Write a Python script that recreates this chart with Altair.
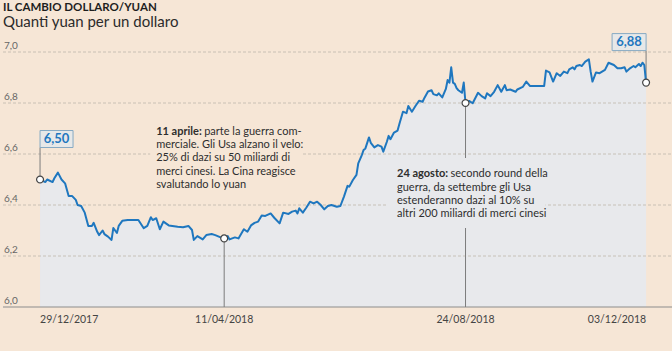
import altair as alt
import pandas as pd

# ---------------- data ----------------
title_text = "IL CAMBIO DOLLARO/YUAN"
subtitle_text = "Quanti yuan per un dollaro"

# days since 29/12/2017, and yuan per dollar
days = [0, 3, 4, 7, 8, 10, 12, 14, 16, 18, 20, 21, 23, 25, 27, 29, 30, 32, 33, 35,
        36, 38, 40, 41, 43, 44, 46, 49, 55, 58, 60, 62, 63, 65, 67, 69, 72, 74, 77, 80,
        83, 85, 86, 88, 91, 93, 96, 98, 101, 103, 105, 106, 109, 111, 114, 116, 118, 120, 122, 124,
        126, 129, 131, 134, 136, 139, 141, 143, 144, 145, 147, 149, 151, 153, 155, 157, 159, 161, 163, 166,
        168, 170, 172, 173, 175, 177, 178, 180, 181, 182, 184, 185, 186, 187, 189, 191, 192, 194, 195, 196,
        198, 200, 201, 203, 205, 206, 208, 210, 212, 214, 215, 217, 219, 220, 222, 223, 225, 227, 228, 229,
        230, 231, 232, 233, 234, 236, 237, 238, 240, 242, 245, 247, 249, 250, 252, 254, 256, 258, 260, 261,
        263, 266, 267, 270, 272, 274, 277, 282, 283, 285, 287, 289, 291, 293, 295, 296, 298, 299, 300, 302,
        303, 305, 307, 308, 309, 311, 313, 316, 318, 321, 323, 325, 327, 328, 330, 332, 333, 335, 336, 337,
        338, 339]
values = [6.500, 6.490, 6.500, 6.490, 6.505, 6.527, 6.500, 6.485, 6.435, 6.435, 6.420, 6.400, 6.396, 6.370, 6.318, 6.318, 6.330, 6.295, 6.282, 6.300,
          6.286, 6.276, 6.263, 6.310, 6.290, 6.318, 6.338, 6.341, 6.341, 6.309, 6.318, 6.352, 6.341, 6.348, 6.305, 6.335, 6.320, 6.318, 6.315, 6.313,
          6.318, 6.302, 6.263, 6.278, 6.265, 6.282, 6.286, 6.282, 6.273, 6.269, 6.278, 6.265, 6.273, 6.269, 6.305, 6.295, 6.320, 6.330, 6.335, 6.359,
          6.357, 6.367, 6.350, 6.328, 6.370, 6.365, 6.374, 6.378, 6.367, 6.387, 6.370, 6.390, 6.413, 6.406, 6.413, 6.400, 6.383, 6.396, 6.400, 6.393,
          6.396, 6.433, 6.475, 6.472, 6.498, 6.518, 6.563, 6.596, 6.616, 6.622, 6.665, 6.644, 6.635, 6.626, 6.635, 6.629, 6.609, 6.648, 6.671, 6.658,
          6.684, 6.692, 6.718, 6.766, 6.760, 6.788, 6.766, 6.788, 6.809, 6.805, 6.820, 6.845, 6.850, 6.835, 6.830, 6.838, 6.822, 6.855, 6.890, 6.880,
          6.940, 6.880, 6.875, 6.858, 6.850, 6.840, 6.880, 6.800, 6.808, 6.799, 6.840, 6.827, 6.818, 6.838, 6.827, 6.844, 6.870, 6.844, 6.870, 6.850,
          6.853, 6.844, 6.853, 6.863, 6.884, 6.867, 6.867, 6.867, 6.927, 6.920, 6.884, 6.917, 6.906, 6.923, 6.917, 6.932, 6.940, 6.932, 6.945, 6.949,
          6.945, 6.962, 6.971, 6.923, 6.884, 6.920, 6.917, 6.930, 6.958, 6.949, 6.936, 6.936, 6.940, 6.923, 6.936, 6.945, 6.940, 6.953, 6.945, 6.958,
          6.949, 6.880]

tick_days = [0, 103, 238, 339]
tick_labels = ["29/12/2017", "11/04/2018", "24/08/2018", "03/12/2018"]
tick_align = ["left", "center", "center", "right"]

y_ticks = [6.0, 6.2, 6.4, 6.6, 6.8, 7.0]
y_tick_labels = ["6,0", "6,2", "6,4", "6,6", "6,8", "7,0"]

event_days = [103, 238]
box_days = [0, 339]
box_labels = ["6,50", "6,88"]

note1_bold = "11 aprile:"
note1_first = "parte la guerra com-"
note1_rest = ["merciale. Gli Usa alzano il velo:",
              "25% di dazi su 50 miliardi di",
              "merci cinesi. La Cina reagisce",
              "svalutando lo yuan"]
note2_bold = "24 agosto:"
note2_first = "secondo round della"
note2_rest = ["guerra, da settembre gli Usa",
              "estenderanno dazi al 10% su",
              "altri 200 miliardi di merci cinesi"]

# ---------------- tables ----------------
series = pd.DataFrame({"day": days, "value": values})
lookup = dict(zip(days, values))
events = pd.DataFrame({"day": event_days, "value": [lookup[d] for d in event_days]})
boxes = pd.DataFrame({"day": box_days, "value": [lookup[d] for d in box_days], "label": box_labels})
ticks = pd.DataFrame({"day": tick_days, "label": tick_labels, "align": tick_align})
grid = pd.DataFrame({"value": y_ticks, "label": y_tick_labels})

# ---------------- style ----------------
FONT = "Lato"
BG = "#f6e6d6"
AREA = "#e8e9ec"
BLUE = "#1f77bf"
GRID = "#bfb6ac"
LEAD = "#7c7c7c"

xs = alt.Scale(domain=[-22.4, 353.5], nice=False, zero=False)
ys = alt.Scale(domain=[6.0, 7.0], nice=False, zero=False)
X = alt.X("day:Q", scale=xs, axis=None)
Y = alt.Y("value:Q", scale=ys, axis=None)
X2 = alt.X2(field="day")
Y2 = alt.Y2(field="value")
Y_BASE = alt.YDatum(6.0, scale=ys, axis=None)
Y2_BASE = alt.Y2Datum(6.0)

area = alt.Chart(series).mark_area(color=AREA).encode(x=X, y=Y, y2=Y2_BASE)

gridlines = alt.Chart(grid[grid["value"] > 6.0]).mark_rule(
    color=GRID, strokeDash=[3, 2], strokeWidth=0.8
).encode(y=Y, x=alt.value(3), x2=alt.value(672))

baseline = alt.Chart(grid[grid["value"] == 6.0]).mark_rule(
    color="#8c8c8c", strokeWidth=1
).encode(y=Y, x=alt.value(3), x2=alt.value(672))

ylabels = alt.Chart(grid).mark_text(
    font=FONT, fontSize=10, color="#666666", align="left", baseline="middle", dy=-6.5
).encode(y=Y, x=alt.value(4), text="label:N")

event_rules = alt.Chart(events).mark_rule(color=LEAD, strokeWidth=1).encode(
    x=X, y=Y, y2=Y2_BASE)

box_rules = alt.Chart(boxes).mark_rule(color=LEAD, strokeWidth=1, y2Offset=-32).encode(
    x=X, y=Y, y2=Y2)

ev1 = alt.Chart(events).transform_filter(alt.datum.day == 103)
ev2 = alt.Chart(events).transform_filter(alt.datum.day == 238)

note1_bg = ev1.mark_rect(fill=BG, xOffset=-74, x2Offset=78, yOffset=-118, y2Offset=-46).encode(
    x=X, x2=X2, y=Y, y2=Y2)
note2_bg = ev2.mark_rect(fill=AREA, xOffset=-78, x2Offset=80, yOffset=55, y2Offset=125).encode(
    x=X, x2=X2, y=Y, y2=Y2)

tstyle = dict(font=FONT, fontSize=11, color="#2e2e2e", align="left", baseline="alphabetic")


def note_layers(base, bold, first, rest, dx, dx_first, dy0, lh):
    out = [
        base.mark_text(fontWeight="bold", dx=dx, dy=dy0, **tstyle).encode(
            x=X, y=Y, text=alt.value(bold)),
        base.mark_text(dx=dx_first, dy=dy0, **tstyle).encode(
            x=X, y=Y, text=alt.value(first)),
    ]
    for i, ln in enumerate(rest):
        out.append(base.mark_text(dx=dx, dy=dy0 + (i + 1) * lh, **tstyle).encode(
            x=X, y=Y, text=alt.value(ln)))
    return out


notes = (note_layers(ev1, note1_bold, note1_first, note1_rest, -68, -20, -103.5, 13.2)
         + note_layers(ev2, note2_bold, note2_first, note2_rest, -68.5, -15, 74.3, 13.3))

line = alt.Chart(series).mark_line(color=BLUE, strokeWidth=2, strokeJoin="round").encode(x=X, y=Y)

b1 = alt.Chart(boxes).transform_filter(alt.datum.day == 0)
b2 = alt.Chart(boxes).transform_filter(alt.datum.day == 339)
boxstyle = dict(fill="#e7e8e8", stroke="#86a9c3", strokeWidth=1, yOffset=-49, y2Offset=-32)
box1 = b1.mark_rect(xOffset=0, x2Offset=33, **boxstyle).encode(x=X, x2=X2, y=Y, y2=Y2)
box2 = b2.mark_rect(xOffset=-34, x2Offset=0, **boxstyle).encode(x=X, x2=X2, y=Y, y2=Y2)
lstyle = dict(font=FONT, fontSize=13, fontWeight="bold", color=BLUE, align="center",
              baseline="middle", dy=-40.5)
lab1 = b1.mark_text(dx=16.5, **lstyle).encode(x=X, y=Y, text="label:N")
lab2 = b2.mark_text(dx=-17, **lstyle).encode(x=X, y=Y, text="label:N")

pts = pd.concat([events, boxes[["day", "value"]]], ignore_index=True)
circles = alt.Chart(pts).mark_circle(
    color="white", opacity=1, stroke="#444444", strokeWidth=1.2, size=48
).encode(x=X, y=Y)

xl_style = dict(font=FONT, fontSize=10.5, color="#444444", baseline="middle", dy=13)
xlabels = [
    alt.Chart(ticks).transform_filter(alt.datum.align == a).mark_text(align=a, **xl_style).encode(
        x=X, y=Y_BASE, text="label:N")
    for a in ["left", "center", "right"]
]

one = grid[grid["value"] == 7.0]
title = alt.Chart(one).mark_text(
    font=FONT, fontSize=11.5, fontWeight="bold", color="#1e1e1e", align="left", baseline="alphabetic"
).encode(x=alt.value(3), y=alt.value(-41), text=alt.value(title_text))
subtitle = alt.Chart(one).mark_text(
    font=FONT, fontSize=15, color="#2b2b2b", align="left", baseline="alphabetic"
).encode(x=alt.value(3), y=alt.value(-25), text=alt.value(subtitle_text))

chart = alt.layer(
    area, gridlines, baseline, event_rules, box_rules, note1_bg, note2_bg,
    *notes, line, circles, box1, box2, lab1, lab2,
    *xlabels, ylabels, title, subtitle
).properties(
    width=672, height=255,
    padding={"left": 0, "right": 0, "top": 52, "bottom": 44},
    autosize=alt.AutoSizeParams(type="none"),
    background=BG,
).configure_view(stroke=None)

chart.save("out.html", embed_options={"renderer": "svg", "actions": False})
